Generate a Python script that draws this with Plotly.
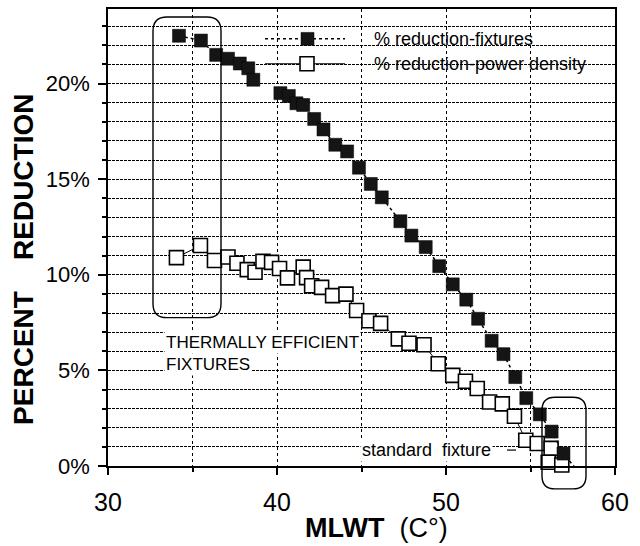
import plotly.graph_objects as go

# ---------------- data ----------------
mlwt_fixtures = [34.2, 35.5, 36.4, 37.1, 37.8, 38.3, 38.6, None,
                 40.2, 40.7, 41.15, 41.55, 42.2, 42.75, 43.45, 44.15, 44.85, 45.55,
                 46.2, 47.3, 47.95, 48.8, 49.6, 50.4, 51.2, 51.9, 52.7, 53.4,
                 54.1, 54.75, 55.55, 56.25, 56.95, 57.65]
red_fixtures = [22.5, 22.25, 21.5, 21.3, 21.05, 20.8, 20.2, None,
                19.5, 19.35, 18.97, 18.88, 18.15, 17.6, 16.8, 16.45, 15.6, 14.75,
                14.05, 12.8, 12.05, 11.45, 10.45, 9.5, 8.7, 7.7, 6.55, 5.85,
                4.65, 3.55, 2.7, 1.8, 0.65, -0.1]

mlwt_power = [34.05, 35.47, 36.3, 37.1, 37.63, 38.24, 38.7, 39.17, 39.68, 40.15,
              40.62, 41.55, 41.75, 42.05, 42.64, 43.29, 44.08, 44.71, 45.44, 46.13,
              47.18, 47.81, 48.7, 49.54, 50.4, 51.15, 51.85, 52.58, 53.33, 54.05,
              54.72, 55.4, 56.22, 56.05, 56.85]
red_power = [10.9, 11.53, 10.75, 10.93, 10.6, 10.27, 10.13, 10.7, 10.65, 10.33,
             9.84, 10.4, 9.85, 9.43, 9.34, 8.91, 8.99, 8.13, 7.6, 7.46,
             6.65, 6.42, 6.34, 5.35, 4.74, 4.43, 4.05, 3.35, 3.25, 2.6,
             1.35, 1.18, 0.92, 0.2, 0.05]

x_tick_vals = [30, 40, 50, 60]
x_tick_text = ["30", "40", "50", "60"]
y_tick_vals = [0, 5, 10, 15, 20]
y_tick_text = ["0%", "5%", "10%", "15%", "20%"]

legend_names = ["% reduction-fixtures", "% reduction-power density"]

# ---------------- layout geometry helpers ----------------
W, H = 640, 546
L, R, T, B = 108, 25, 7, 80
PW, PH = W - L - R, H - T - B
FONT = "Liberation Sans, Arial, Helvetica, sans-serif"


def px(xp):
    return (xp - L) / PW


def py(yp):
    return (H - B - yp) / PH


def rounded_rect(x0, y0, x1, y1, r):
    a, b = px(x0), px(x1)
    top, bot = py(y0), py(y1)
    rx, ry = r / PW, r / PH
    return (f"M {a+rx},{top} L {b-rx},{top} Q {b},{top} {b},{top-ry} "
            f"L {b},{bot+ry} Q {b},{bot} {b-rx},{bot} L {a+rx},{bot} "
            f"Q {a},{bot} {a},{bot+ry} L {a},{top-ry} Q {a},{top} {a+rx},{top} Z")


fig = go.Figure()

fig.add_trace(go.Scatter(
    x=mlwt_power, y=red_power, mode="lines+markers", name=legend_names[1],
    line=dict(color="black", width=1),
    marker=dict(symbol="square", size=14, color="white",
                line=dict(color="black", width=1.6)),
    cliponaxis=False, showlegend=False))

fig.add_trace(go.Scatter(
    x=mlwt_fixtures, y=red_fixtures, mode="lines+markers", name=legend_names[0],
    line=dict(color="black", width=1.5, dash="dot"),
    marker=dict(symbol="square", size=13, color="#151515",
                line=dict(color="#000000", width=0.5)),
    connectgaps=False, cliponaxis=False, showlegend=False))

shapes = []
# white box behind legend (covers gridlines, below traces)
shapes.append(dict(type="rect", xref="paper", yref="paper",
                   x0=px(257), x1=1, y0=py(88), y1=1,
                   fillcolor="white", line=dict(width=0), layer="between"))
# legend samples
shapes.append(dict(type="line", xref="paper", yref="paper",
                   x0=px(265), x1=px(345), y0=py(37), y1=py(37),
                   line=dict(color="black", width=1.5, dash="dot")))
shapes.append(dict(type="rect", xref="paper", yref="paper",
                   x0=px(301), x1=px(314), y0=py(43.5), y1=py(30.5),
                   fillcolor="#151515", line=dict(color="black", width=0.5)))
shapes.append(dict(type="line", xref="paper", yref="paper",
                   x0=px(265), x1=px(345), y0=py(62), y1=py(62),
                   line=dict(color="black", width=1)))
shapes.append(dict(type="rect", xref="paper", yref="paper",
                   x0=px(300), x1=px(314), y0=py(69), y1=py(55),
                   fillcolor="white", line=dict(color="black", width=1.6)))
# rounded highlight boxes
shapes.append(dict(type="path", xref="paper", yref="paper",
                   path=rounded_rect(153, 15, 221, 317, 14),
                   line=dict(color="black", width=1.4)))
shapes.append(dict(type="path", xref="paper", yref="paper",
                   path=rounded_rect(542, 397, 586, 489, 13),
                   line=dict(color="black", width=1.4)))
# small leader line after "standard fixture"
shapes.append(dict(type="line", xref="paper", yref="paper",
                   x0=px(507), x1=px(516), y0=py(450), y1=py(450),
                   line=dict(color="black", width=1.2)))

annotations = []
annotations.append(dict(xref="paper", yref="paper", x=px(372), y=py(37),
                        text=legend_names[0], showarrow=False, xanchor="left",
                        yanchor="middle", font=dict(family=FONT, size=18, color="black")))
annotations.append(dict(xref="paper", yref="paper", x=px(372), y=py(62),
                        text=legend_names[1], showarrow=False, xanchor="left",
                        yanchor="middle", font=dict(family=FONT, size=18, color="black")))
annotations.append(dict(xref="paper", yref="paper", x=px(164), y=py(342),
                        text="THERMALLY EFFICIENT", showarrow=False, xanchor="left",
                        yanchor="middle", bgcolor="white", borderpad=1,
                        font=dict(family=FONT, size=17, color="black")))
annotations.append(dict(xref="paper", yref="paper", x=px(164), y=py(364),
                        text="FIXTURES", showarrow=False, xanchor="left",
                        yanchor="middle", bgcolor="white", borderpad=1,
                        font=dict(family=FONT, size=17, color="black")))
annotations.append(dict(xref="paper", yref="paper", x=px(360), y=py(450),
                        text="standard\u00a0\u00a0fixture", showarrow=False, xanchor="left",
                        yanchor="middle", bgcolor="white", borderpad=1,
                        font=dict(family=FONT, size=18, color="black")))
annotations.append(dict(xref="paper", yref="paper", x=px(24), y=py(259),
                        text="<b>PERCENT\u00a0\u00a0\u00a0\u00a0REDUCTION</b>", showarrow=False,
                        textangle=-90, xanchor="center", yanchor="middle",
                        font=dict(family=FONT, size=28, color="black")))
annotations.append(dict(xref="paper", yref="paper", x=px(376), y=py(528),
                        text="<b>MLWT</b>\u00a0\u00a0(C°)", showarrow=False,
                        xanchor="center", yanchor="middle",
                        font=dict(family=FONT, size=27, color="black")))

fig.update_layout(
    width=W, height=H,
    margin=dict(l=L, r=R, t=T, b=B, pad=0),
    paper_bgcolor="white", plot_bgcolor="white",
    font=dict(family=FONT, color="black"),
    shapes=shapes, annotations=annotations,
    showlegend=False,
)

fig.update_xaxes(
    range=[30, 60], tickmode="array", tickvals=x_tick_vals, ticktext=x_tick_text,
    ticks="outside", ticklen=7, tickwidth=1.5, tickcolor="black",
    tickfont=dict(family=FONT, size=25, color="black"), ticklabelstandoff=6,
    showline=True, linecolor="black", linewidth=1.5, mirror=True,
    showgrid=True, gridcolor="black", gridwidth=1, griddash="dot",
    minor=dict(dtick=5, tick0=30, ticks="outside", ticklen=4, tickcolor="black",
               showgrid=True, gridcolor="black", gridwidth=1, griddash="dot"),
    zeroline=False,
)
fig.update_yaxes(
    range=[0, 23.9], tickmode="array", tickvals=y_tick_vals, ticktext=y_tick_text,
    ticks="outside", ticklen=8, tickwidth=1.5, tickcolor="black",
    tickfont=dict(family=FONT, size=22, color="black"), ticklabelstandoff=4,
    showline=True, linecolor="black", linewidth=1.5, mirror=True,
    showgrid=True, gridcolor="black", gridwidth=1.3, griddash="3px,1px",
    minor=dict(dtick=1, tick0=0, ticks="outside", ticklen=4, tickcolor="black",
               showgrid=True, gridcolor="black", gridwidth=1.3, griddash="3px,1px"),
    zeroline=False,
)

fig.write_html("out.html", config={"displayModeBar": False},
               post_script="document.body.style.margin='0';document.body.style.padding='0';")
